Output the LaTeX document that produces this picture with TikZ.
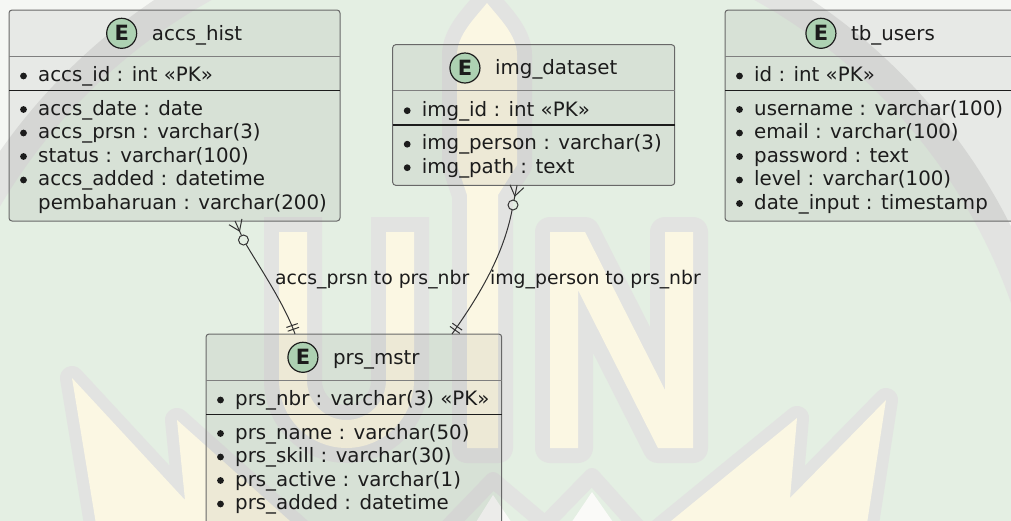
\documentclass[tikz,border=0pt]{standalone}
\usepackage{fontspec}
\setmainfont{DejaVu Sans}
\usetikzlibrary{calc}

\definecolor{wmgreen}{HTML}{E4EFE3}
\definecolor{wmout}{HTML}{F5F7F4}
\definecolor{wmgrey}{HTML}{E2E3E1}
\definecolor{wmyellow}{HTML}{FBF7E3}
\definecolor{wmwhite}{HTML}{FAFAF8}
\definecolor{entborder}{HTML}{686868}
\definecolor{ebadge}{HTML}{ADD1B2}
\definecolor{inkdark}{HTML}{1C1C1C}

\newcommand\rowfont{\fontsize{19.8pt}{23pt}\selectfont}
\newcommand\lblfont{\fontsize{18.8pt}{22pt}\selectfont}

\tikzset{
  ent/.style={draw=entborder, line width=1pt, rounded corners=3pt, fill=black,
    fill opacity=0.055, text opacity=1, inner sep=0pt, outer sep=0pt, anchor=north west},
  hsep/.style={draw=entborder!85, line width=0.9pt},
  pksep/.style={draw=inkdark, line width=1.5pt},
  ebadgestyle/.style={circle, draw=inkdark, line width=1.2pt, fill=ebadge, minimum size=30pt,
    inner sep=0pt, font=\bfseries\fontsize{21pt}{21pt}\selectfont, text=inkdark},
  ttl/.style={inner sep=0pt, anchor=base, font=\rowfont, text=inkdark},
  attr/.style={inner sep=0pt, anchor=base west, font=\rowfont, text=inkdark},
  lbl/.style={inner sep=0pt, anchor=base west, font=\lblfont, text=inkdark},
  rel/.style={draw=inkdark!90, line width=1pt},
  wmband/.style={draw=wmgrey, fill=wmgrey, line join=round},
}

% entity box: name, x, y, width, height, title
\newcommand\entity[6]{%
  \node[ent, minimum width=#4pt, minimum height=#5pt] (#1) at (#2,#3) {};
  \draw[hsep] ([yshift=-46pt]#1.north west) -- ([yshift=-46pt]#1.north east);
  \draw[pksep] ([yshift=-80.5pt]#1.north west) -- ([yshift=-80.5pt]#1.north east);
  \node[ttl] (#1-title) at ([yshift=-30pt]#1.north) {\hspace*{45pt}#6};
  \node[ebadgestyle] (#1-badge) at ([xshift=15pt,yshift=6.7pt]#1-title.base west) {E};
}
% key attribute row
\newcommand\pkattr[2]{%
  \fill[inkdark] ([xshift=14.5pt,yshift=-66pt]#1.north west) circle (3.4pt);
  \node[attr] (#1-pk) at ([xshift=29pt,yshift=-71.7pt]#1.north west) {#2};
}
% ordinary attribute rows
\newcommand\bodyattr[3]{%
  \fill[inkdark] ([xshift=14.5pt,yshift={-(99.5+23.5*#2)*1pt}]#1.north west) circle (3.4pt);
  \node[attr] (#1-r#2) at ([xshift=29pt,yshift={-(105+23.5*#2)*1pt}]#1.north west) {#3};
}
\newcommand\plainattr[3]{%
  \node[attr] (#1-r#2) at ([xshift=29pt,yshift={-(105+23.5*#2)*1pt}]#1.north west) {#3};
}

% emblem outlines
\def\flameR{(660,530) -- (797,418) -- (790,498) -- (886,400) -- (866,530) -- cycle}
\def\flameL{(300,530) -- (177,420) -- (185,500) -- (72,378) -- (97,530) -- cycle}
\def\torch{(487,3) .. controls (475,18) and (457,35) .. (457,55) -- (457,165) -- (467,195)
  -- (467,448) -- (498,448) -- (498,195) -- (517,165) -- (517,55)
  .. controls (517,35) and (499,18) .. (487,3) -- cycle}
\def\letterN{(550,448) -- (550,232) -- (585,232) -- (665,390) -- (665,232) -- (693,232)
  -- (693,448) -- (658,448) -- (578,290) -- (578,448) -- cycle}

\begin{document}
\begin{tikzpicture}[x=1pt,y=-1pt]
\useasboundingbox (0,0) rectangle (1011,520);
\clip (0,0) rectangle (1011,520);

% ---- background emblem ----
\fill[wmout] (0,0) rectangle (1011,520);
\fill[wmgreen] (483,490) circle (575);
\draw[wmgrey, line width=30pt] (483,490) circle (575);
\draw[wmband, line width=24pt] \flameR;
\draw[wmband, line width=24pt] \flameL;
\fill[wmyellow] \flameR;
\fill[wmyellow] \flameL;
\fill[wmwhite] (468,535) -- (493,495) -- (520,535) -- cycle;
\fill[wmwhite] (563,535) -- (592,492) -- (622,535) -- cycle;
\draw[wmgrey, line width=16pt, line join=round] (440,535) -- (493,480) -- (545,524) -- (592,476) -- (645,535);
\draw[wmgrey, line width=58pt] (293,217) -- (293,380.5) arc(180:0:53.5) -- (400,217);
\draw[wmband, line width=30pt] \torch;
\draw[wmband, line width=30pt] \letterN;
\draw[wmyellow, line width=28pt] (293,232) -- (293,380.5) arc(180:0:53.5) -- (400,232);
\fill[wmyellow] \torch;
\fill[wmyellow] \letterN;

% ---- entities ----
\entity{accs}{9}{10}{331}{211}{accs\_hist}
\pkattr{accs}{accs\_id : int «PK»}
\bodyattr{accs}{0}{accs\_date : date}
\bodyattr{accs}{1}{accs\_prsn : varchar(3)}
\bodyattr{accs}{2}{status : varchar(100)}
\bodyattr{accs}{3}{accs\_added : datetime}
\plainattr{accs}{4}{pembaharuan : varchar(200)}

\entity{img}{392.7}{44.7}{282}{140.6}{img\_dataset}
\pkattr{img}{img\_id : int «PK»}
\bodyattr{img}{0}{img\_person : varchar(3)}
\bodyattr{img}{1}{img\_path : text}

\entity{users}{725}{10}{291}{211}{tb\_users}
\pkattr{users}{id : int «PK»}
\bodyattr{users}{0}{username : varchar(100)}
\bodyattr{users}{1}{email : varchar(100)}
\bodyattr{users}{2}{password : text}
\bodyattr{users}{3}{level : varchar(100)}
\bodyattr{users}{4}{date\_input : timestamp}

\entity{prs}{206}{334}{295.7}{200}{prs\_mstr}
\pkattr{prs}{prs\_nbr : varchar(3) «PK»}
\bodyattr{prs}{0}{prs\_name : varchar(50)}
\bodyattr{prs}{1}{prs\_skill : varchar(30)}
\bodyattr{prs}{2}{prs\_active : varchar(1)}
\bodyattr{prs}{3}{prs\_added : datetime}

% ---- relation accs_hist }o--|| prs_mstr ----
\coordinate (r1s) at ($(accs.south west)!0.683!(accs.south east)$);
\coordinate (r1o) at (243.5,240);
\coordinate (r1e) at ($(prs.north west)!0.301!(prs.north east)$);
\coordinate (r1c1) at (260,268);
\coordinate (r1c2) at (285,305);
\coordinate (r1v) at ($(r1s)!11pt!(r1o)$);
\draw[rel] (r1s) -- ($(r1o)!5pt!(r1s)$);
\draw[rel] ($(r1v)!1.12!35:(r1s)$) -- (r1v) -- ($(r1v)!1.12!-35:(r1s)$);
\draw[rel] (r1o) circle (5pt);
\draw[rel] ($(r1o)!5pt!(r1c1)$) .. controls (r1c1) and (r1c2) .. (r1e);
\coordinate (r1t1) at ($(r1e)!5pt!(r1c2)$);
\coordinate (r1t2) at ($(r1e)!9pt!(r1c2)$);
\draw[rel] ($(r1t1)!6pt!90:(r1e)$) -- ($(r1t1)!6pt!-90:(r1e)$);
\draw[rel] ($(r1t2)!6pt!90:(r1e)$) -- ($(r1t2)!6pt!-90:(r1e)$);
\node[lbl] (r1lbl) at (275,284) {accs\_prsn to prs\_nbr};

% ---- relation img_dataset }o--|| prs_mstr ----
\coordinate (r2s) at ($(img.south west)!0.441!(img.south east)$);
\coordinate (r2o) at (513,205);
\coordinate (r2e) at ($(prs.north west)!0.832!(prs.north east)$);
\coordinate (r2c1) at (503,258);
\coordinate (r2c2) at (476,300);
\coordinate (r2v) at ($(r2s)!11pt!(r2o)$);
\draw[rel] (r2s) -- ($(r2o)!5pt!(r2s)$);
\draw[rel] ($(r2v)!1.12!35:(r2s)$) -- (r2v) -- ($(r2v)!1.12!-35:(r2s)$);
\draw[rel] (r2o) circle (5pt);
\draw[rel] ($(r2o)!5pt!(r2c1)$) .. controls (r2c1) and (r2c2) .. (r2e);
\coordinate (r2t1) at ($(r2e)!5pt!(r2c2)$);
\coordinate (r2t2) at ($(r2e)!9pt!(r2c2)$);
\draw[rel] ($(r2t1)!6pt!90:(r2e)$) -- ($(r2t1)!6pt!-90:(r2e)$);
\draw[rel] ($(r2t2)!6pt!90:(r2e)$) -- ($(r2t2)!6pt!-90:(r2e)$);
\node[lbl] (r2lbl) at (490,284) {img\_person to prs\_nbr};
\end{tikzpicture}
\end{document}
